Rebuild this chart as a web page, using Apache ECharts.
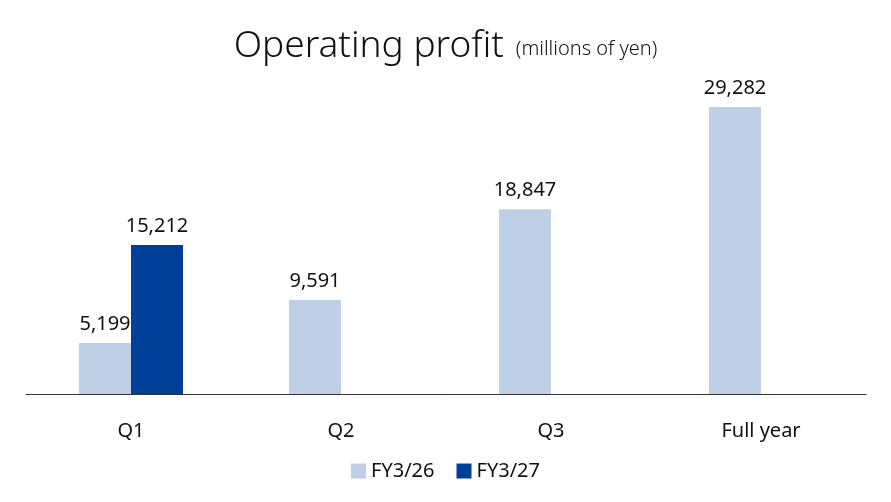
<!DOCTYPE html>
<html lang="en">
<head>
    <meta charset="UTF-8">
    <title>Operating profit</title>
    <script src="https://cdn.jsdelivr.net/npm/echarts@6/dist/echarts.min.js"></script>
    <style>
        html, body { margin: 0; padding: 0; background: #fff; }
        #chart { width: 891px; height: 502px; }
    </style>
</head>
<body>
<div id="chart"></div>
<script>
    // quarters and values (millions of yen)
    var categories = ["Q1", "Q2", "Q3", "Full year"];
    var seriesNames = ["FY3/26", "FY3/27"];
    var fy26 = [5199, 9591, 18847, 29282];
    var fy27 = [15212, null, null, null];

    var font = "Noto Sans";

    function fmt(p) {
        return p.value == null ? "" : p.value.toLocaleString("en-US");
    }

    var chart = echarts.init(document.getElementById("chart"));
    chart.setOption({
        animation: false,
        textStyle: { fontFamily: font },
        title: {
            text: "{big|Operating profit}{small|(millions of yen)}",
            left: "center",
            top: 23,
            textStyle: {
                fontWeight: "normal",
                rich: {
                    big: { fontSize: 37, color: "#111", fontFamily: font, fontWeight: 300 },
                    small: { fontSize: 20, color: "#111", fontFamily: font, fontWeight: 300, padding: [6, 0, 0, 12] }
                }
            }
        },
        legend: {
            bottom: 16,
            left: "center",
            itemWidth: 15,
            itemHeight: 15,
            itemGap: 22,
            icon: "rect",
            textStyle: { fontSize: 20, color: "#111", fontFamily: font },
            data: seriesNames
        },
        grid: { left: 26, right: 25, top: 51, bottom: 108 },
        xAxis: {
            type: "category",
            data: categories,
            axisLine: { lineStyle: { color: "#333", width: 1 } },
            axisTick: { show: false },
            axisLabel: { fontSize: 20, color: "#111", margin: 27 }
        },
        yAxis: {
            type: "value",
            min: 0,
            max: 35000,
            show: false,
            splitLine: { show: false }
        },
        series: [{
            name: seriesNames[0],
            type: "bar",
            data: fy26,
            barWidth: 52,
            barGap: "0%",
            itemStyle: { color: "#BFCFE5" },
            label: { show: true, position: "top", distance: 9, fontSize: 20, color: "#111", formatter: fmt }
        }, {
            name: seriesNames[1],
            type: "bar",
            data: fy27,
            barWidth: 52,
            barGap: "0%",
            itemStyle: { color: "#003F98" },
            label: { show: true, position: "top", distance: 9, fontSize: 20, color: "#111", formatter: fmt }
        }]
    });
</script>
</body>
</html>
